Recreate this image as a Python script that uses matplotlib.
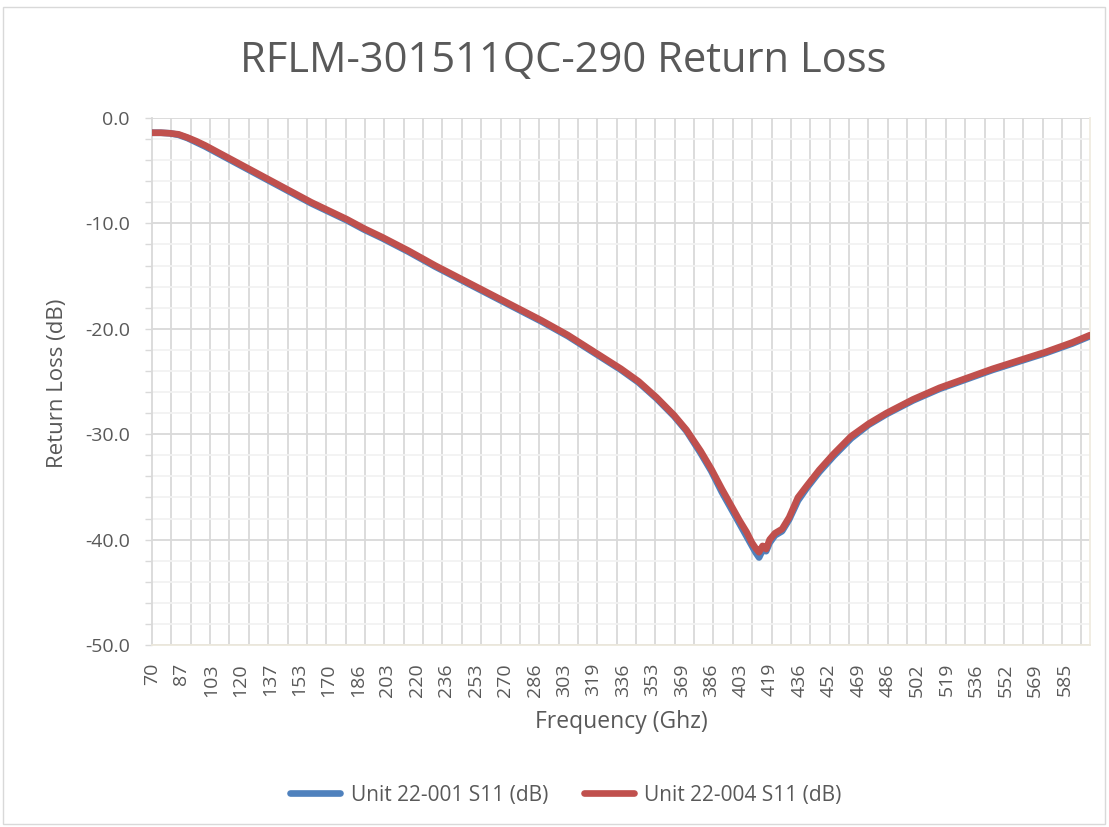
import numpy as np
import matplotlib
matplotlib.use("Agg")
import matplotlib.pyplot as plt
from matplotlib.patches import Rectangle

plt.rcParams['font.family'] = ['Open Sans', 'DejaVu Sans']

# data
freq = [70, 75, 80, 85, 90, 95, 100, 110, 120, 130, 140, 150, 160, 170, 180,
        190, 200, 215, 230, 245, 260, 275, 290, 305, 320, 335, 345, 355, 365,
        372, 380, 386, 392, 398, 402, 406, 409, 411, 413, 415, 417, 419, 422,
        426, 430, 435, 440, 447, 455, 465, 475, 485, 500, 515, 530, 545, 560,
        575, 590, 600]
s11_unit001 = [-1.4, -1.4, -1.45, -1.6, -1.9, -2.3, -2.7, -3.6, -4.5, -5.4,
               -6.3, -7.2, -8.1, -8.9, -9.7, -10.6, -11.4, -12.7, -14.1, -15.4,
               -16.7, -18.0, -19.3, -20.7, -22.3, -23.9, -25.1, -26.6, -28.3,
               -29.7, -31.8, -33.5, -35.5, -37.3, -38.5, -39.7, -40.6, -41.2,
               -41.7, -41.0, -41.1, -40.3, -39.6, -39.2, -38.1, -36.3, -35.1,
               -33.6, -32.1, -30.4, -29.1, -28.1, -26.8, -25.7, -24.8, -23.9,
               -23.1, -22.3, -21.4, -20.7]
s11_unit004 = [-1.4, -1.4, -1.45, -1.55, -1.85, -2.2, -2.6, -3.5, -4.4, -5.3,
               -6.2, -7.1, -8.0, -8.8, -9.6, -10.5, -11.3, -12.6, -14.0, -15.3,
               -16.6, -17.9, -19.2, -20.6, -22.2, -23.8, -25.0, -26.5, -28.2,
               -29.6, -31.6, -33.3, -35.2, -37.0, -38.2, -39.3, -40.3, -40.8,
               -41.2, -40.6, -40.9, -40.0, -39.4, -39.0, -37.9, -36.0, -34.9,
               -33.4, -31.9, -30.2, -29.0, -28.0, -26.7, -25.6, -24.7, -23.8,
               -23.0, -22.2, -21.3, -20.6]
tick_labels = [70, 87, 103, 120, 137, 153, 170, 186, 203, 220, 236, 253, 270,
               286, 303, 319, 336, 353, 369, 386, 403, 419, 436, 452, 469, 486,
               502, 519, 536, 552, 569, 585]

txt = '#595959'
W, H = 1109, 827
fig = plt.figure(figsize=(W / 100, H / 100), dpi=100)
fig.patches.append(Rectangle((3 / W, 3 / H), 1102 / W, 817 / H, transform=fig.transFigure,
                             fill=False, edgecolor='#d9d9d9', linewidth=1))

ax = fig.add_axes([152 / W, 1 - 645 / H, (1090 - 152) / W, (645 - 118) / H])

ax.plot(freq, s11_unit001, color='#4F81BD', lw=4.8, solid_capstyle='round',
        label='Unit 22-001 S11 (dB)', zorder=3)
ax.plot(freq, s11_unit004, color='#C0504D', lw=4.8, solid_capstyle='round',
        label='Unit 22-004 S11 (dB)', zorder=4)

ax.set_xlim(70, 600)
ax.set_ylim(-50, 0)

# labels every 16.63 GHz, gridlines every 10.94 GHz (excel category axis)
ax.set_xticks(70 + np.arange(len(tick_labels)) * 16.63)
ax.set_xticklabels([str(t) for t in tick_labels], rotation=90)
ax.set_xticks(70 + np.arange(49) * 10.94, minor=True)
ax.tick_params(axis='x', which='both', length=0, pad=13, labelsize=14, labelcolor=txt)

ax.set_yticks(np.arange(-50, 1, 10))
ax.set_yticklabels(['%.1f' % v for v in np.arange(-50, 1, 10)])
ax.set_yticks(np.arange(-50, 1, 2), minor=True)
ax.tick_params(axis='y', which='both', length=5, width=1, color='#d9d9d9',
               pad=11, labelsize=14, labelcolor=txt)

ax.grid(axis='x', which='minor', color='#d9d9d9', lw=1.3)
ax.grid(axis='y', which='major', color='#d9d9d9', lw=1.3)
ax.grid(axis='y', which='minor', color='#f2f2f2', lw=1.3)
ax.set_axisbelow(True)

ax.spines['top'].set_visible(False)
ax.spines['left'].set_color('#d9d9d9')
ax.spines['bottom'].set_color('#ece8dc')
ax.spines['right'].set_color('#f0ece0')
for s in ax.spines.values():
    s.set_linewidth(1.3)

fig.text(563 / W, 1 - 61 / H, 'RFLM-301511QC-290 Return Loss', ha='center', va='center',
         fontsize=30, color=txt)
fig.text(57 / W, 1 - 383 / H, 'Return Loss (dB)', rotation=90, ha='center', va='center',
         fontsize=16, color=txt)
fig.text(621 / W, 1 - 722 / H, 'Frequency (Ghz)', ha='center', va='center',
         fontsize=16.5, color=txt)

fig.legend(loc='center', bbox_to_anchor=(566 / W, 1 - 795 / H), ncol=2, frameon=False,
           fontsize=15, labelcolor=txt, handlelength=2.4, handletextpad=0.5,
           columnspacing=1.7)

fig.savefig('out.png', dpi=100)
